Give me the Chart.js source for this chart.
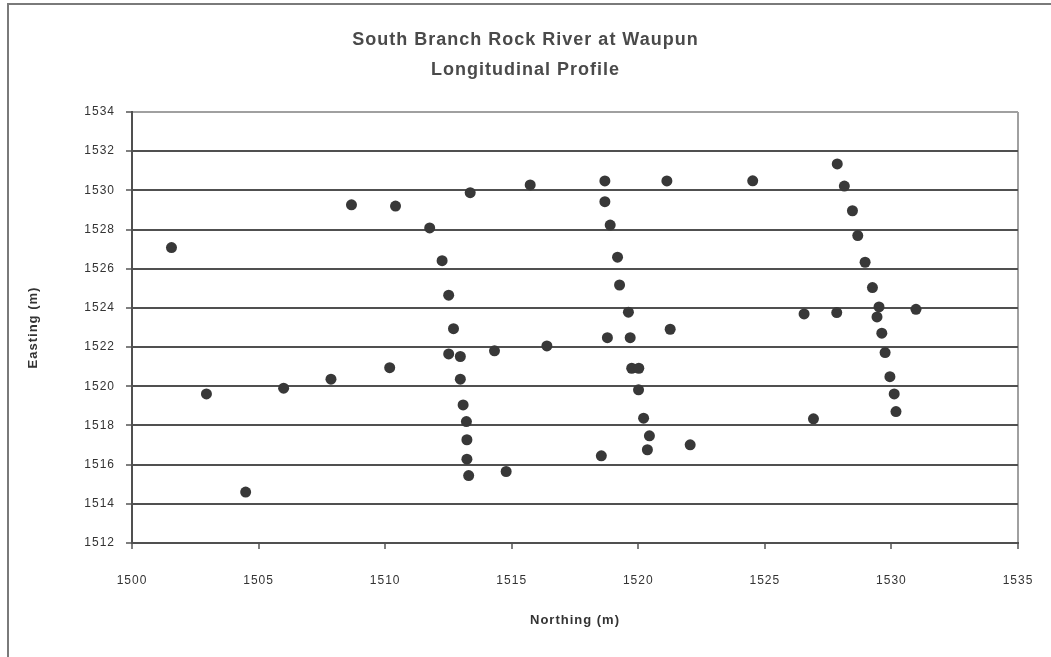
<!DOCTYPE html>
<html>
<head>
<meta charset="utf-8">
<script src="https://cdn.jsdelivr.net/npm/chart.js@4"></script>
<style>
html,body{margin:0;padding:0;background:#fff;}
#wrap{width:1051px;height:657px;position:relative;}
</style>
</head>
<body>
<div id="wrap"><canvas id="c" width="1051" height="657"></canvas></div>
<script>
const titleLines = ["South Branch Rock River at Waupun", "Longitudinal Profile"];
const xTitle = "Northing (m)";
const yTitle = "Easting (m)";
const xTicks = [1500, 1505, 1510, 1515, 1520, 1525, 1530, 1535];
const yTicks = [1512, 1514, 1516, 1518, 1520, 1522, 1524, 1526, 1528, 1530, 1532, 1534];

const northing = [
  1501.56, 1508.67, 1510.41, 1511.76, 1502.94, 1504.49, 1505.99, 1507.86, 1510.18,
  1513.36, 1515.73, 1518.68, 1521.13, 1518.68, 1518.89, 1512.25, 1519.18, 1512.51,
  1519.26, 1519.61, 1512.70, 1518.78, 1519.68, 1521.26, 1516.39, 1514.32, 1512.51,
  1512.97, 1519.74, 1520.02, 1520.01, 1512.97, 1513.08, 1513.21, 1513.23, 1513.23,
  1513.30, 1514.78, 1518.54, 1520.21, 1520.44, 1520.36, 1522.05, 1524.52, 1527.86,
  1528.14, 1528.46, 1528.67, 1528.96, 1529.25, 1526.55, 1527.84, 1529.51, 1529.43,
  1530.97, 1529.62, 1529.75, 1529.94, 1530.11, 1530.18, 1526.92
];
const easting = [
  1527.08, 1529.26, 1529.20, 1528.08, 1519.61, 1514.60, 1519.90, 1520.36, 1520.95,
  1529.88, 1530.28, 1530.48, 1530.48, 1529.42, 1528.23, 1526.41, 1526.59, 1524.65,
  1525.17, 1523.78, 1522.94, 1522.48, 1522.48, 1522.91, 1522.06, 1521.81, 1521.65,
  1521.52, 1520.92, 1520.92, 1519.82, 1520.36, 1519.05, 1518.20, 1517.27, 1516.28,
  1515.44, 1515.65, 1516.45, 1518.37, 1517.47, 1516.76, 1517.01, 1530.49, 1531.35,
  1530.22, 1528.96, 1527.69, 1526.33, 1525.04, 1523.69, 1523.76, 1524.05, 1523.54,
  1523.93, 1522.71, 1521.72, 1520.49, 1519.61, 1518.71, 1518.34
];

const points = northing.map((x, i) => ({x: x, y: easting[i]}));

const FONT = "'Liberation Sans', Arial, sans-serif";

const framePlugin = {
  id: 'frame',
  beforeDraw(chart) {
    const ctx = chart.ctx;
    ctx.save();
    ctx.fillStyle = '#ffffff';
    ctx.fillRect(0, 0, chart.width, chart.height);
    ctx.strokeStyle = '#7a7a7a';
    ctx.lineWidth = 2;
    ctx.strokeRect(8, 4, 1060, 680);
    ctx.restore();
  }
};

const spacingPlugin = {
  id: 'spacing',
  beforeInit(chart) { chart.ctx.letterSpacing = '1px'; },
  beforeDraw(chart) { chart.ctx.letterSpacing = '1px'; }
};

new Chart(document.getElementById('c'), {
  type: 'scatter',
  data: {
    datasets: [{
      label: 'Profile',
      data: points,
      pointStyle: 'circle',
      pointRadius: 5.5,
      pointHoverRadius: 5.5,
      backgroundColor: '#383838',
      borderColor: '#383838',
      borderWidth: 0
    }]
  },
  options: {
    responsive: false,
    animation: false,
    events: [],
    layout: {padding: {left: 0, right: 0, top: 0, bottom: 0}},
    plugins: {
      legend: {display: false},
      tooltip: {enabled: false},
      title: {
        display: true,
        text: titleLines,
        color: '#4a4a4a',
        font: {family: FONT, size: 18, weight: 'bold', lineHeight: 30 / 18},
        padding: {top: 25, bottom: 27}
      }
    },
    scales: {
      x: {
        type: 'linear',
        min: 1500, max: 1535,
        afterBuildTicks: s => { s.ticks = xTicks.map(v => ({value: v})); },
        afterFit: s => { s.height = 114; s.paddingRight = 33; s.paddingLeft = 0; },
        grid: {
          drawOnChartArea: true,
          color: c => (c.tick && c.tick.value === 1535) ? '#a0a0a0' : 'rgba(0,0,0,0)',
          lineWidth: 2,
          tickLength: 6,
          tickColor: '#555555',
          tickWidth: 1.5
        },
        border: {display: true, color: '#505050', width: 2},
        ticks: {
          color: '#333333',
          font: {family: FONT, size: 12},
          padding: 24,
          maxRotation: 0,
          callback: v => String(v)
        },
        title: {
          display: true,
          text: xTitle,
          color: '#333333',
          font: {family: FONT, size: 13, weight: 'bold'},
          padding: {top: 0, bottom: 29}
        }
      },
      y: {
        type: 'linear',
        min: 1512, max: 1534,
        afterBuildTicks: s => { s.ticks = yTicks.map(v => ({value: v})); },
        afterFit: s => { s.width = 132; },
        grid: {
          color: c => (c.tick && c.tick.value === 1534) ? '#a0a0a0' : '#505050',
          lineWidth: 2,
          tickLength: 6,
          tickColor: '#555555',
          tickWidth: 1.5
        },
        border: {display: true, color: '#505050', width: 2},
        ticks: {
          color: '#333333',
          font: {family: FONT, size: 12},
          padding: 11,
          callback: v => String(v)
        },
        title: {
          display: true,
          text: yTitle,
          color: '#333333',
          font: {family: FONT, size: 13, weight: 'bold'},
          padding: {top: 26, bottom: 0}
        }
      }
    }
  },
  plugins: [framePlugin, spacingPlugin]
});
</script>
</body>
</html>
